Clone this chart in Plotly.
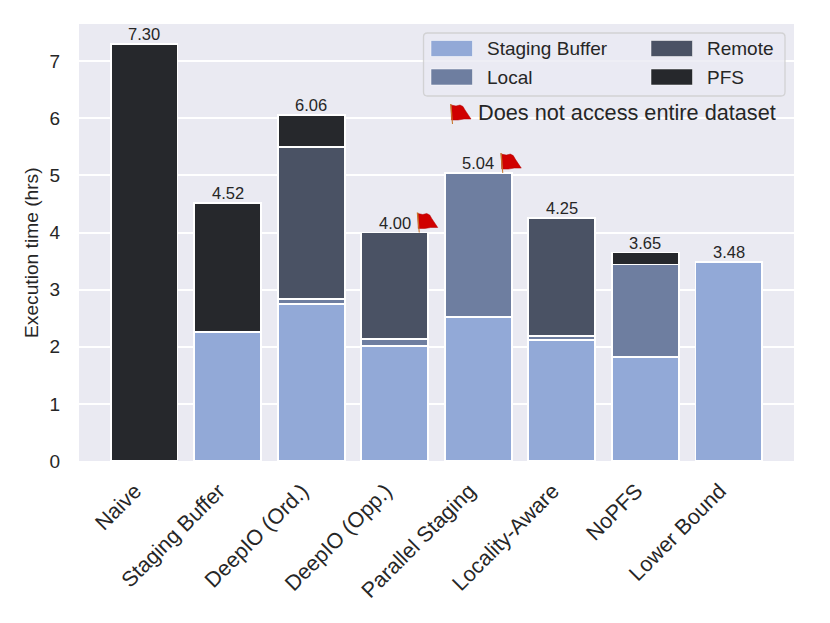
import plotly.graph_objects as go

categories = ["Naive", "Staging Buffer", "DeepIO (Ord.)", "DeepIO (Opp.)",
              "Parallel Staging", "Locality-Aware", "NoPFS", "Lower Bound"]
staging = [0, 2.26, 2.75, 2.01, 2.52, 2.12, 1.82, 3.48]
local = [0, 0, 0.09, 0.12, 2.52, 0.07, 1.62, 0]
remote = [0, 0, 2.66, 1.87, 0, 2.06, 0, 0]
pfs = [7.30, 2.26, 0.56, 0, 0, 0, 0.21, 0]
totals = [7.30, 4.52, 6.06, 4.00, 5.04, 4.25, 3.65, 3.48]
flagged = ["DeepIO (Opp.)", "Parallel Staging"]
series = [("Staging Buffer", staging, "#92A9D7"), ("Local", local, "#6E7EA0"),
          ("Remote", remote, "#4A5264"), ("PFS", pfs, "#26282C")]
yticks = [0, 1, 2, 3, 4, 5, 6, 7]
TXT = "#262626"
FONT = "Liberation Sans, Arial, sans-serif"
OFF = 8  # page margin around the figure
W, H = 822, 615
L, R, T, B = 79 - OFF, 794 - OFF, 24 - OFF, 461 - OFF


def px(x):
    return (x - OFF - L) / (R - L)


def py(y):
    return (B - (y - OFF)) / (B - T)


fig = go.Figure()
for name, vals, col in series:
    fig.add_bar(x=categories, y=vals, name=name, width=0.8, showlegend=False,
                marker=dict(color=col, line=dict(color="white", width=1.8)))

shapes = []
anns = []
for c, t in zip(categories, totals):
    anns.append(dict(x=c, y=t, text=f"{t:.2f}", showarrow=False, yanchor="bottom", yshift=-1,
                     font=dict(size=16.5, color=TXT, family=FONT)))

FLAG = "M1.5,16 L1,1 L6,2 L10,1 L13,2.5 L15,6 L17,9 L21,15 L14,15 L8,16 L2,16 Z"


def flag_shapes(xref, xanchor, yref, yanchor, dx):
    """Flag polygon and pole, offset in pixels from an anchor point."""
    def shift(path):
        out = []
        for tok in path.split():
            cmd, rest = tok[0], tok[1:]
            if cmd == "Z":
                out.append("Z")
                continue
            a, b = rest.split(",")
            out.append(f"{cmd}{float(a) + dx:.1f},{20 - float(b):.1f}")
        return " ".join(out)
    common = dict(type="path", xsizemode="pixel", ysizemode="pixel", xref=xref, yref=yref,
                  xanchor=xanchor, yanchor=yanchor, layer="above")
    return [dict(path=shift(FLAG), fillcolor="#D00000", line=dict(color="#B00000", width=0.5), **common),
            dict(path=shift("M0,0 L2,20 L3,20 L1.5,0 Z"), fillcolor="#C8752A", line=dict(width=0), **common)]


for c, t in zip(categories, totals):
    if c in flagged:
        shapes += flag_shapes("x", c, "y", t, 22)

# legend panel
x0, x1, y0, y1, r = px(423.5), px(785), py(33), py(96), 4
rx, ry = r / (R - L), r / (B - T)
shapes.append(dict(type="path", xref="paper", yref="paper", fillcolor="rgba(234,234,242,0.8)",
                   line=dict(color="rgba(204,204,204,0.8)", width=1.3),
                   path=f"M{x0+rx},{y0} L{x1-rx},{y0} Q{x1},{y0} {x1},{y0-ry} L{x1},{y1+ry} Q{x1},{y1} {x1-rx},{y1} "
                        f"L{x0+rx},{y1} Q{x0},{y1} {x0},{y1+ry} L{x0},{y0-ry} Q{x0},{y0} {x0+rx},{y0} Z"))
legend_pos = [(431, 48.5), (431, 77), (651, 48.5), (651, 77)]
for (name, _, col), (sx, sy) in zip(series, legend_pos):
    shapes.append(dict(type="rect", xref="paper", yref="paper", x0=px(sx), x1=px(sx + 41.5),
                       y0=py(sy - 8), y1=py(sy + 8), fillcolor=col,
                       line=dict(color="rgba(255,255,255,0.5)", width=1)))
    anns.append(dict(xref="paper", yref="paper", x=px(sx + 54), y=py(sy), text=name, showarrow=False,
                     xanchor="left", yanchor="middle", font=dict(size=19, color=TXT, family=FONT)))

# flag key
shapes += flag_shapes("paper", px(450), "paper", py(124), 0)
anns.append(dict(xref="paper", yref="paper", x=px(478), y=py(112), text="Does not access entire dataset",
                 showarrow=False, xanchor="left", yanchor="middle", xshift=-2,
                 font=dict(size=21.7, color=TXT, family=FONT)))

# axis title (sits below the axis centre in the reference)
anns.append(dict(xref="paper", yref="paper", x=px(31), y=py(253), text="Execution time (hrs)", textangle=-90,
                 showarrow=False, xanchor="center", yanchor="middle",
                 font=dict(size=19.2, color=TXT, family=FONT)))

fig.update_layout(
    barmode="stack", width=W, height=H, autosize=False, showlegend=False,
    margin=dict(l=L, r=W - R, t=T, b=H - B, pad=0),
    paper_bgcolor="white", plot_bgcolor="#EAEAF2",
    font=dict(family=FONT, color=TXT, size=19),
    shapes=shapes, annotations=anns,
    xaxis=dict(type="category", range=[-0.78, 7.78], tickangle=-45, showgrid=False, zeroline=False,
               ticks="outside", ticklen=8, tickcolor="white", ticklabelshift=-9,
               tickfont=dict(size=21.5, color=TXT)),
    yaxis=dict(range=[0, 7.65], tickvals=yticks, ticktext=[str(v) for v in yticks], gridcolor="white",
               gridwidth=1.8, zeroline=False, ticks="outside", ticklen=14, tickcolor="white",
               tickfont=dict(size=19, color=TXT)),
)
fig.write_html("out.html", config=dict(displayModeBar=False))
